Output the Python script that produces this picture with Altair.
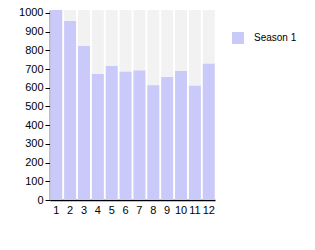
import altair as alt
import pandas as pd

months = [str(i) for i in range(1, 13)]
values = [1030, 957, 823, 674, 717, 686, 693, 613, 658, 690, 611, 729]
series = ["Season 1"] * 12
y_max = 1016

df = pd.DataFrame({"month": months, "value": values, "series": series, "top": [y_max] * 12})

x = alt.X("month:N", sort=months, title=None,
          scale=alt.Scale(paddingInner=0.14, paddingOuter=0.02),
          axis=alt.Axis(labelAngle=0, ticks=False, domainColor="black", labelColor="black",
                        labelFont="Liberation Sans", labelFontSize=11, labelPadding=4,
                        labelOverlap=False))

yaxis = alt.Axis(values=list(range(0, 1001, 100)), format="d", grid=False, domainColor="black",
                 tickColor="black", tickSize=5, labelColor="black",
                 labelFont="Liberation Sans", labelFontSize=11, labelPadding=2,
                 labelOverlap=False, title=None)

bg = alt.Chart(df).mark_bar(color="#f2f2f2").encode(
    x=x,
    y=alt.Y("top:Q", title=None, scale=alt.Scale(domain=[0, y_max], nice=False), axis=yaxis),
)

bars = alt.Chart(df).mark_bar(clip=True).encode(
    x=x,
    y=alt.Y("value:Q", title=None, scale=alt.Scale(domain=[0, y_max], nice=False), axis=yaxis),
    color=alt.Color("series:N", scale=alt.Scale(range=["#c9c9fa"]),
                    legend=alt.Legend(title=None, orient="none", legendX=182, legendY=22,
                                      symbolType="square", symbolSize=144, symbolStrokeWidth=0,
                                      labelFont="Liberation Sans", labelFontSize=10,
                                      labelColor="black", labelOffset=10)),
)

chart = alt.layer(bg, bars).properties(
    width=165, height=190,
    autosize=alt.AutoSizeParams(type="none"),
    padding={"left": 50, "top": 10, "right": 100, "bottom": 50},
).configure_view(stroke=None).configure_axis(domainWidth=1.5)

chart.save("out.html", embed_options={"renderer": "svg", "actions": False})
